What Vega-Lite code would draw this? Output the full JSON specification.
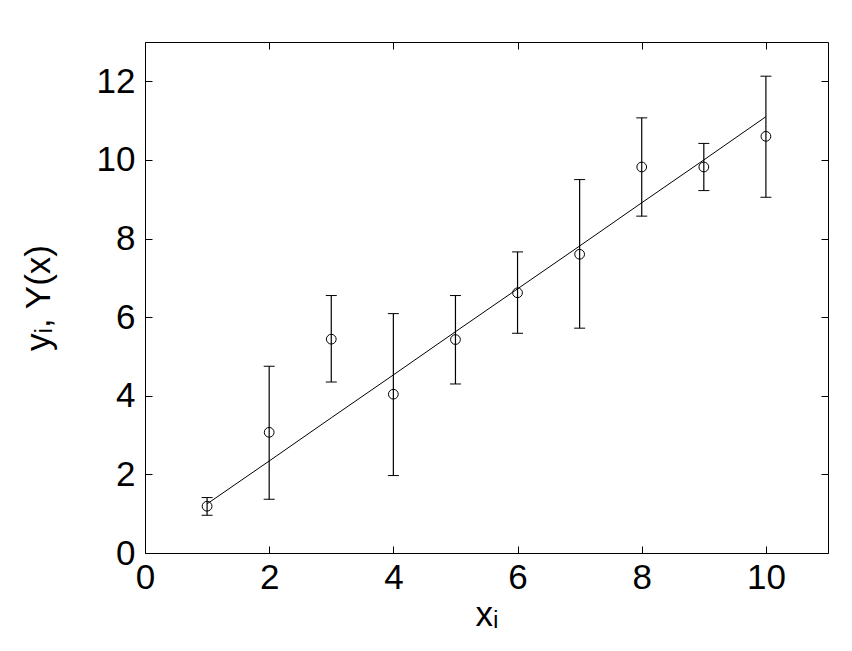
{
  "$schema": "https://vega.github.io/schema/vega-lite/v6.json",
  "width": 683,
  "height": 511,
  "autosize": {"type": "none"},
  "padding": {"left": 145, "top": 42, "right": 24, "bottom": 98},
  "background": "white",
  "config": {
    "view": {"stroke": "black", "strokeWidth": 1},
    "axis": {
      "grid": false,
      "domain": false,
      "tickColor": "black",
      "tickSize": -7,
      "tickWidth": 1,
      "labelFlush": false,
      "labelFont": "Liberation Sans",
      "labelFontSize": 35,
      "labelColor": "black",
      "titleFont": "Liberation Sans",
      "titleFontSize": 35,
      "titleFontWeight": "normal",
      "titleColor": "black"
    }
  },
  "resolve": {"axis": {"x": "independent", "y": "independent"}},
  "data": {
    "values": [
      {"x": 1, "y": 1.19, "lo": 0.96, "hi": 1.41, "fit": 1.25},
      {"x": 2, "y": 3.07, "lo": 1.37, "hi": 4.75, "fit": 2.34},
      {"x": 3, "y": 5.44, "lo": 4.35, "hi": 6.55, "fit": 3.44},
      {"x": 4, "y": 4.04, "lo": 1.97, "hi": 6.09, "fit": 4.53},
      {"x": 5, "y": 5.43, "lo": 4.3, "hi": 6.55, "fit": 5.63},
      {"x": 6, "y": 6.62, "lo": 5.59, "hi": 7.66, "fit": 6.72},
      {"x": 7, "y": 7.6, "lo": 5.72, "hi": 9.5, "fit": 7.81},
      {"x": 8, "y": 9.82, "lo": 8.57, "hi": 11.07, "fit": 8.91},
      {"x": 9, "y": 9.82, "lo": 9.22, "hi": 10.42, "fit": 10.0},
      {"x": 10, "y": 10.6, "lo": 9.05, "hi": 12.13, "fit": 11.1}
    ]
  },
  "layer": [
    {
      "mark": {"type": "errorbar", "color": "black", "opacity": 1, "ticks": {"size": 11, "color": "black", "strokeWidth": 1.2, "opacity": 1}, "rule": {"color": "black", "strokeWidth": 1.2, "opacity": 1}},
      "encoding": {
        "x": {
          "field": "x", "type": "quantitative",
          "scale": {"domain": [0, 11], "nice": false, "zero": false},
          "axis": {"orient": "bottom", "values": [0, 2, 4, 6, 8, 10], "format": "d", "title": "xᵢ", "labelPadding": 14, "titlePadding": 2}
        },
        "y": {
          "field": "lo", "type": "quantitative",
          "scale": {"domain": [0, 13], "nice": false, "zero": false},
          "axis": {"orient": "left", "values": [0, 2, 4, 6, 8, 10, 12], "format": "d", "title": "yᵢ, Y(x)", "labelPadding": 17, "titlePadding": 40}
        },
        "y2": {"field": "hi"}
      }
    },
    {
      "mark": {"type": "line", "color": "black", "strokeWidth": 1},
      "encoding": {
        "x": {"field": "x", "type": "quantitative", "axis": {"orient": "top", "values": [0, 2, 4, 6, 8, 10], "labels": false, "title": null}},
        "y": {"field": "fit", "type": "quantitative", "axis": {"orient": "right", "values": [0, 2, 4, 6, 8, 10, 12], "labels": false, "title": null}}
      }
    },
    {
      "mark": {"type": "point", "shape": "circle", "size": 95, "filled": false, "color": "black", "strokeWidth": 1, "opacity": 1},
      "encoding": {
        "x": {"field": "x", "type": "quantitative", "axis": null},
        "y": {"field": "y", "type": "quantitative", "axis": null}
      }
    }
  ]
}
